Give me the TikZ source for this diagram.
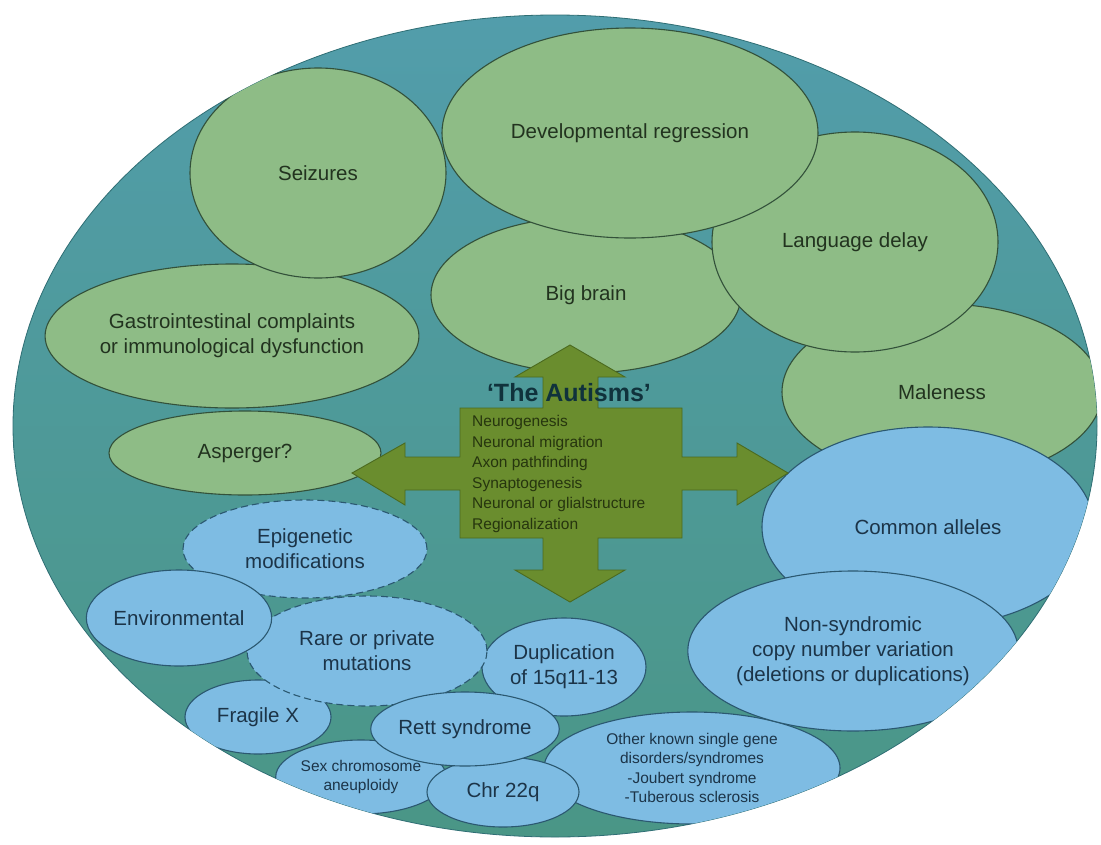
\documentclass[tikz,border=0pt]{standalone}
\usepackage{fontspec}
\setmainfont{Liberation Sans}
\usetikzlibrary{shapes.geometric}
\definecolor{tealtop}{HTML}{529DAB}
\definecolor{tealbot}{HTML}{4A9686}
\definecolor{tealline}{HTML}{2F6E74}
\definecolor{sage}{HTML}{8EBC86}
\definecolor{sageline}{HTML}{33513A}
\definecolor{sagetext}{HTML}{22331F}
\definecolor{sky}{HTML}{7EBCE3}
\definecolor{skyline}{HTML}{2B5870}
\definecolor{skytext}{HTML}{1C3448}
\definecolor{olive}{HTML}{6A8D2E}
\definecolor{oliveline}{HTML}{4B6A1F}
\definecolor{olivetext}{HTML}{26350E}
\definecolor{titletext}{HTML}{10323C}
\begin{document}
\begin{tikzpicture}[x=1pt,y=-1pt,
  esz/.style 2 args={minimum width=#1pt, minimum height=#2pt},
  ell/.style={ellipse, inner sep=0pt, line width=1.1pt, align=center,
              font=\fontsize{20.5}{25}\selectfont},
  gell/.style={ell, fill=sage, draw=sageline, text=sagetext},
  bell/.style={ell, fill=sky, draw=skyline, text=skytext},
  dell/.style={bell, dash pattern=on 7pt off 4pt},
  small/.style={font=\fontsize{15.5}{19.5}\selectfont},
]
\useasboundingbox (0,0) rectangle (1101,844);
\fill[white] (0,0) rectangle (1101,844);

% outer field
\shade[top color=tealtop, bottom color=tealbot, draw=tealline, line width=0.8pt]
  (555,426) ellipse [x radius=542, y radius=411];

\begin{scope}
\clip (555,426) ellipse [x radius=542, y radius=411];

% phenotype features
\node[gell, esz={344}{144}] (gastro) at (232,336) {Gastrointestinal complaints\\or immunological dysfunction};
\node[gell, esz={256}{210}] (seiz) at (318,173) {Seizures};
\node[gell, esz={320}{176}] (male) at (942,392) {Maleness};
\node[gell, esz={310}{156}] (big) at (586,295) {Big brain};
\node[gell, esz={286}{220}] (lang) at (855,242) {Language delay};
\node[gell, esz={376}{210}] (dev) at (630,133) {Developmental regression};
\node[gell, esz={272}{84}] (asp) at (245,453) {Asperger?};

% genetic and other causes
\node[bell, esz={332}{200}] (common) at (928,527) {Common alleles};
\node[bell, esz={296}{112}, small] (other) at (692,768)
  {Other known single gene\\disorders/syndromes\\-Joubert syndrome\\-Tuberous sclerosis};
\node[bell, esz={320}{160}] (nonsyn) at (853,651)
  {Non-syndromic\\copy number variation\\(deletions or duplications)};
\node[bell, esz={164}{98}] (dup) at (564,667) {Duplication\\of 15q11-13};
\node[dell, esz={244}{98}] (epi) at (305,549) {Epigenetic\\modifications};
\node[bell, esz={146}{74}] (fragile) at (258,717) {Fragile X};
\node[dell, esz={240}{110}] (rare) at (367,651) {Rare or private\\mutations};
\node[bell, esz={184}{96}] (env) at (179,618) {Environmental};
\node[bell, esz={146}{74}, small] (sex) at (361,777) {Sex chromosome\\aneuploidy};
\node[bell, esz={152}{70}] (chr) at (503,792) {Chr 22q};
\node[bell, esz={148}{74}] (rett) at (465,729) {Rett syndrome};
\end{scope}

% four-headed arrow
\fill[olive, draw=oliveline, line width=0.9pt]
  (543,408) -- (543,377) -- (515,377) -- (570,345) -- (625,377) -- (598,377)
  -- (598,408) -- (682,408) -- (682,457) -- (737,457) -- (737,443) -- (788,473)
  -- (737,505) -- (737,490) -- (682,490) -- (682,538) -- (598,538) -- (598,570)
  -- (625,570) -- (570,602) -- (515,570) -- (543,570) -- (543,538) -- (460,538)
  -- (460,490) -- (405,490) -- (405,505) -- (352,473) -- (405,443) -- (405,457)
  -- (460,457) -- (460,408) -- cycle;

\node[font=\bfseries\fontsize{25}{30}\selectfont, text=titletext, inner sep=0pt]
  (title) at (569,393) {‘The Autisms’};
\node[anchor=west, align=left, inner sep=0pt, text=olivetext,
      font=\fontsize{15.5}{20.5}\selectfont] (proc) at (472,474)
  {Neurogenesis\\Neuronal migration\\Axon pathfinding\\Synaptogenesis\\Neuronal or glialstructure\\Regionalization};
\end{tikzpicture}
\end{document}
